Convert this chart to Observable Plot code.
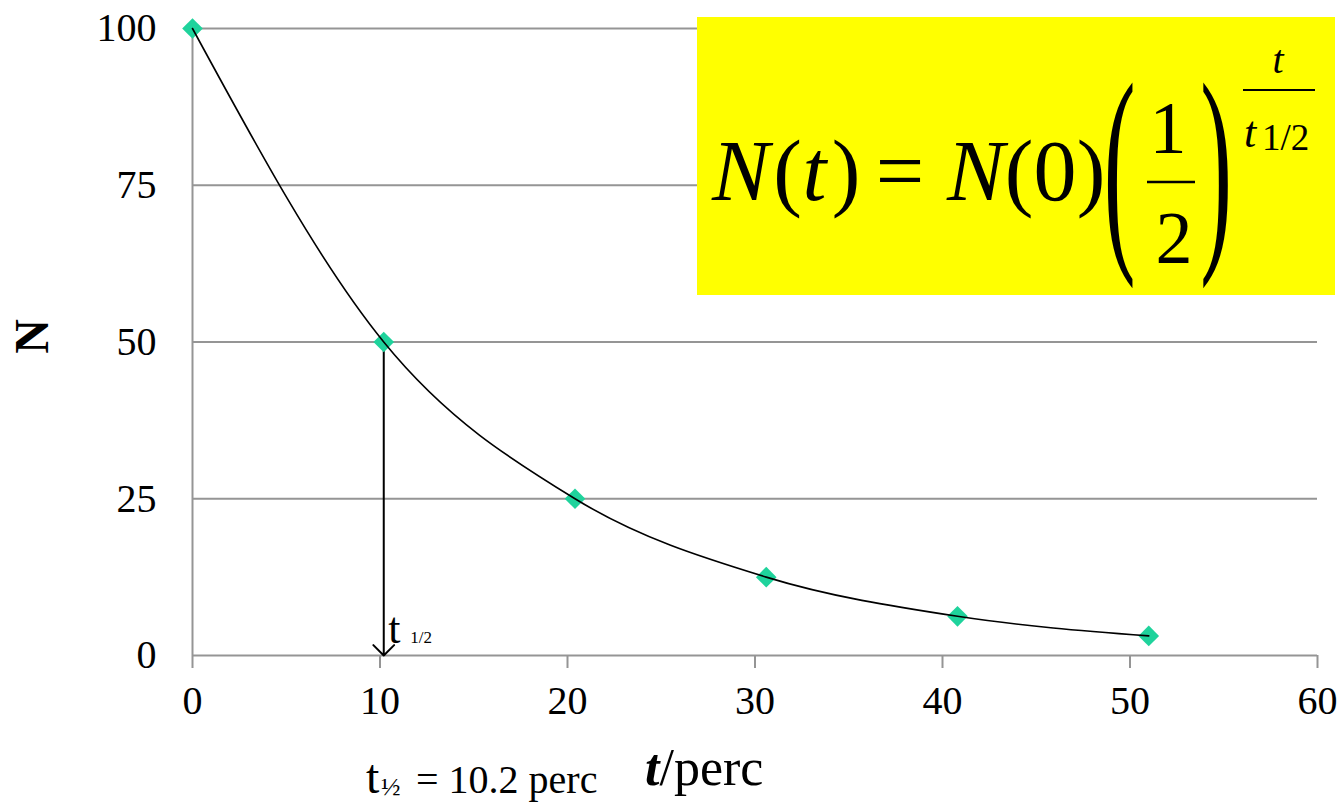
<!DOCTYPE html>
<html>
<head>
<meta charset="utf-8">
<script src="https://cdn.jsdelivr.net/npm/d3@7"></script>
<script src="https://cdn.jsdelivr.net/npm/@observablehq/plot@0.6"></script>
<style>
  html, body { margin: 0; padding: 0; background: #fff; }
  svg { display: block; }
</style>
</head>
<body>
<script>
// ---- data ----
const tValues = [0, 10.2, 20.4, 30.6, 40.8, 51];
const nValues = [100, 50, 25, 12.5, 6.25, 3.125];
const xTicks = [0, 10, 20, 30, 40, 50, 60];
const yTicks = [0, 25, 50, 75, 100];
const halfLife = 10.2;
const halfN = 50;

const points = tValues.map((t, i) => ({t, n: nValues[i]}));
const arrowData = [{x: halfLife, y1: halfN, y2: 0}];

const gray = "#959595";

const chart = Plot.plot({
  width: 1340,
  height: 805,
  marginLeft: 192,
  marginRight: 23,
  marginTop: 28,
  marginBottom: 150,
  x: {domain: [0, 60]},
  y: {domain: [0, 100]},
  style: {fontFamily: "Liberation Serif", color: "black", background: "white", overflow: "visible"},
  marks: [
    Plot.ruleY(yTicks.filter(d => d > 0), {stroke: gray, strokeWidth: 2}),
    Plot.ruleY([0], {stroke: gray, strokeWidth: 2}),
    Plot.ruleX([0], {stroke: gray, strokeWidth: 2}),
    Plot.axisX({ticks: xTicks, tickSize: 13, tickPadding: 17, fontSize: 40, stroke: gray, strokeWidth: 2, label: null, tickFormat: d => String(d)}),
    Plot.axisY({ticks: yTicks, tickSize: 0, tickPadding: 36, fontSize: 40, label: null, tickFormat: d => String(d)}),
    Plot.arrow(arrowData, {x1: "x", y1: "y1", x2: "x", y2: "y2", stroke: "black", strokeWidth: 2, headAngle: 90, headLength: 11}),
    Plot.dot(points, {x: "t", y: "n", symbol: "diamond2", r: 9.3, fill: "#1fd39c", stroke: "none"}),
    Plot.line(points, {x: "t", y: "n", curve: "monotone-x", stroke: "black", strokeWidth: 1.6})
  ]
});

document.body.appendChild(chart);

// ---- annotations ----
const xs = chart.scale("x"), ys = chart.scale("y");
const svg = d3.select(chart);
const g = svg.append("g").attr("font-family", "Liberation Serif").attr("fill", "black").attr("text-anchor", "start");

function txt(x, y, s, o = {}) {
  const t = g.append("text").attr("x", x).attr("y", y).attr("font-size", o.size || 40)
    .attr("text-anchor", o.anchor || "start").text(s);
  if (o.italic) t.attr("font-style", "italic");
  if (o.bold) t.attr("font-weight", "bold");
  return t;
}

// t 1/2 label at the arrow
const ax = xs.apply(halfLife), ay = ys.apply(0);
txt(ax + 5, ay - 12, "t", {size: 44});
txt(ax + 27, ay - 12, "1/2", {size: 17});

// y label
g.append("text")
  .attr("transform", "translate(48,336.5) rotate(-90)")
  .attr("text-anchor", "middle")
  .attr("font-size", 48)
  .attr("font-weight", "bold")
  .text("N");

// x label
const xl = g.append("text").attr("x", 645).attr("y", 785).attr("font-size", 52).attr("text-anchor", "start");
xl.append("tspan").attr("font-weight", "bold").attr("font-style", "italic").text("t");
xl.append("tspan").text("/perc");

// bottom-left note
txt(366, 793, "t", {size: 48});
txt(381, 795, "½", {size: 26});
txt(416, 793, "= 10.2 perc", {size: 40});

// formula box
g.append("rect").attr("x", 697).attr("y", 17).attr("width", 638).attr("height", 278).attr("fill", "#ffff00");

const F = 86, B = 200;
txt(712, B, "N", {size: F, italic: true});
txt(787.5, B, "(", {size: F, anchor: "middle"});
txt(814.5, B, "t", {size: F, italic: true, anchor: "middle"});
txt(846, B, ")", {size: F, anchor: "middle"});
txt(900, B, "=", {size: F, anchor: "middle"});
txt(947, B, "N", {size: F, italic: true});
txt(1019, B, "(", {size: F, anchor: "middle"});
txt(1055, B, "0", {size: F, anchor: "middle"});
txt(1091, B, ")", {size: F, anchor: "middle"});

// big parentheses
g.append("text").attr("transform", "translate(1119.5,240) scale(0.42,1)")
  .attr("text-anchor", "middle").attr("font-size", 227).text("(");
g.append("text").attr("transform", "translate(1216,240) scale(0.42,1)")
  .attr("text-anchor", "middle").attr("font-size", 227).text(")");

// 1/2 fraction
txt(1168, 153, "1", {size: 74, anchor: "middle"});
g.append("line").attr("x1", 1147).attr("x2", 1195).attr("y1", 182).attr("y2", 182)
  .attr("stroke", "black").attr("stroke-width", 2.5);
txt(1174, 263, "2", {size: 74, anchor: "middle"});

// exponent t / t_{1/2}
txt(1278, 73, "t", {size: 40, italic: true, anchor: "middle"});
g.append("line").attr("x1", 1243).attr("x2", 1315).attr("y1", 90).attr("y2", 90)
  .attr("stroke", "black").attr("stroke-width", 2);
txt(1244, 147, "t", {size: 44, italic: true});
txt(1262, 150, "1/2", {size: 37});
</script>
</body>
</html>
